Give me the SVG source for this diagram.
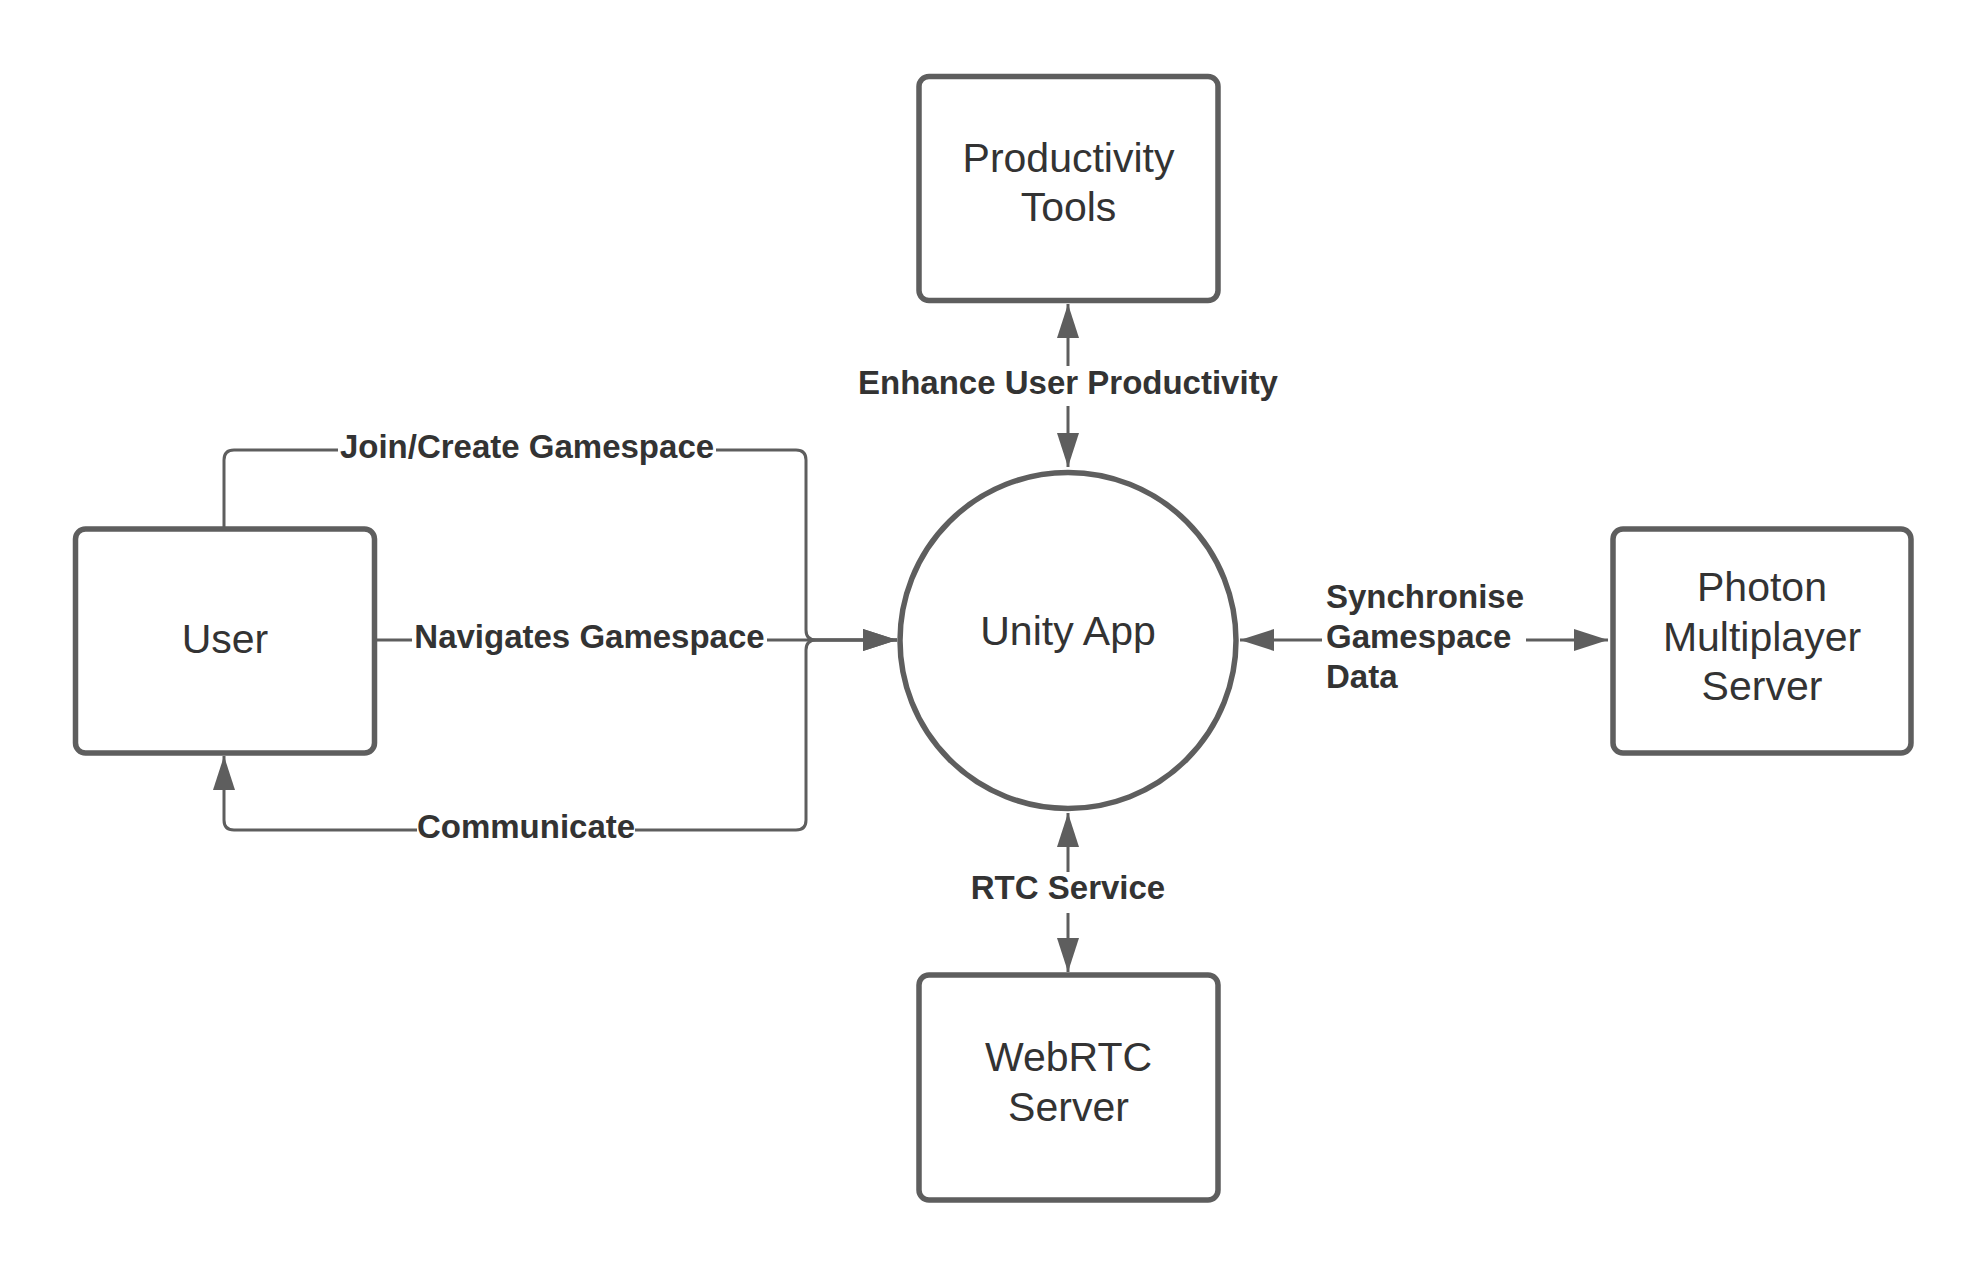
<svg xmlns="http://www.w3.org/2000/svg" width="1988" height="1275" viewBox="0 0 1988 1275">
<defs>
<style>
.node{fill:#ffffff;stroke:#5e5e5e;stroke-width:5.5}
.ntext{font-family:"Liberation Sans",Arial,sans-serif;font-size:41px;fill:#333333;text-anchor:middle}
.conn{fill:none;stroke:#5e5e5e;stroke-width:3}
.ltext{font-family:"Liberation Sans",Arial,sans-serif;font-size:33px;font-weight:bold;fill:#333333}
.lbg{fill:#ffffff}
</style>
<marker id="arr" viewBox="0 0 34 22" refX="34" refY="11" markerWidth="34" markerHeight="22" markerUnits="userSpaceOnUse" orient="auto-start-reverse">
<path d="M0,0 L34,11 L0,22 Z" fill="#5e5e5e"/>
</marker>
</defs>
<rect width="1988" height="1275" fill="#ffffff"/>
<g id="connectors">
<path class="conn" d="M1068,304 V467" marker-start="url(#arr)" marker-end="url(#arr)"/>
<path class="conn" d="M1068,813 V972" marker-start="url(#arr)" marker-end="url(#arr)"/>
<path class="conn" d="M1240,640 H1608" marker-start="url(#arr)" marker-end="url(#arr)"/>
<path class="conn" d="M376,640 H897" marker-end="url(#arr)"/>
<path class="conn" d="M224,527 V460 Q224,450 234,450 H796 Q806,450 806,460 V630 Q806,640 816,640 H897" marker-end="url(#arr)"/>
<path class="conn" d="M897,640 H816 Q806,640 806,650 V820 Q806,830 796,830 H234 Q224,830 224,820 V756" marker-end="url(#arr)"/>
<rect class="lbg" x="852" y="366" width="432" height="40"/>
<text class="ltext" x="1068" y="394" text-anchor="middle">Enhance User Productivity</text>
<rect class="lbg" x="966" y="872" width="204" height="41"/>
<text class="ltext" x="1068" y="899" text-anchor="middle">RTC Service</text>
<rect class="lbg" x="1322" y="630" width="204" height="20"/>
<text class="ltext" x="1326" y="608">Synchronise</text>
<text class="ltext" x="1326" y="648">Gamespace</text>
<text class="ltext" x="1326" y="688">Data</text>
<rect class="lbg" x="412" y="628" width="355" height="26"/>
<text class="ltext" x="589.5" y="648" text-anchor="middle">Navigates Gamespace</text>
<rect class="lbg" x="338" y="440" width="378" height="22"/>
<text class="ltext" x="527" y="458" text-anchor="middle">Join/Create Gamespace</text>
<rect class="lbg" x="417" y="820" width="218" height="22"/>
<text class="ltext" x="526" y="838" text-anchor="middle">Communicate</text>
</g>
<g id="node-productivity">
<rect class="node" x="919" y="76.5" width="299" height="224" rx="10"/>
<text class="ntext" x="1068.5" y="172">Productivity</text>
<text class="ntext" x="1068.5" y="221">Tools</text>
</g>
<g id="node-user">
<rect class="node" x="75.5" y="529" width="299" height="224" rx="10"/>
<text class="ntext" x="225" y="653">User</text>
</g>
<g id="node-unity">
<circle class="node" cx="1068" cy="640.5" r="168"/>
<text class="ntext" x="1068" y="645">Unity App</text>
</g>
<g id="node-photon">
<rect class="node" x="1613" y="529" width="298" height="224" rx="10"/>
<text class="ntext" x="1762" y="601">Photon</text>
<text class="ntext" x="1762" y="651">Multiplayer</text>
<text class="ntext" x="1762" y="700">Server</text>
</g>
<g id="node-webrtc">
<rect class="node" x="919" y="975" width="299" height="225" rx="10"/>
<text class="ntext" x="1068.5" y="1071">WebRTC</text>
<text class="ntext" x="1068.5" y="1121">Server</text>
</g>
</svg>
